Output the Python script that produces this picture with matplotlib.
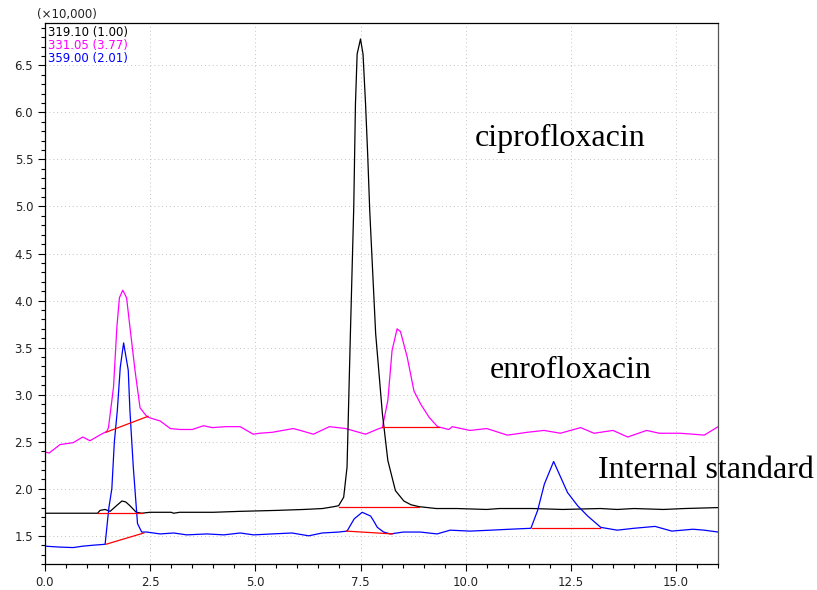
import matplotlib
matplotlib.use("Agg")
import matplotlib.pyplot as plt
from matplotlib.ticker import MultipleLocator

# retention time (min) and intensity (x10,000)
t_black = [0.0, 0.5, 1.0, 1.25, 1.31, 1.43, 1.55, 1.7, 1.83, 1.92, 2.02, 2.17, 2.3, 2.49,
           3.0, 3.06, 3.2, 4.0, 4.64, 5.5, 6.15, 6.6, 6.87, 6.98, 7.10, 7.18, 7.26, 7.34,
           7.38, 7.42, 7.50, 7.56, 7.62, 7.67, 7.72, 7.86, 8.02, 8.15, 8.33, 8.53, 8.70,
           8.89, 9.3, 9.8, 10.5, 10.8, 11.6, 12.3, 13.2, 13.6, 14.0, 14.7, 15.2, 16.0]
y_black = [1.74, 1.74, 1.74, 1.74, 1.77, 1.78, 1.76, 1.82, 1.87, 1.86, 1.82, 1.75, 1.74, 1.75,
           1.75, 1.74, 1.75, 1.75, 1.76, 1.77, 1.78, 1.79, 1.81, 1.82, 1.91, 2.23, 3.65, 5.0,
           6.09, 6.62, 6.78, 6.62, 6.09, 5.56, 4.95, 3.65, 2.80, 2.30, 1.98, 1.87, 1.83,
           1.81, 1.79, 1.79, 1.78, 1.79, 1.79, 1.78, 1.79, 1.78, 1.79, 1.78, 1.79, 1.80]

t_mag = [0.0, 0.1, 0.36, 0.67, 0.9, 1.07, 1.3, 1.47, 1.51, 1.63, 1.71, 1.77, 1.85, 1.94,
         2.02, 2.14, 2.26, 2.40, 2.45, 2.74, 2.98, 3.21, 3.5, 3.77, 3.97, 4.3, 4.64, 4.95,
         5.1, 5.4, 5.9, 6.07, 6.38, 6.76, 7.15, 7.46, 7.62, 7.94, 8.02, 8.15, 8.25, 8.37,
         8.45, 8.61, 8.77, 8.93, 9.13, 9.33, 9.6, 9.68, 10.1, 10.5, 10.99, 11.46, 11.86,
         12.25, 12.73, 13.05, 13.5, 13.85, 14.3, 14.6, 15.1, 15.4, 15.67, 16.0]
y_mag = [2.39, 2.38, 2.47, 2.49, 2.55, 2.51, 2.57, 2.61, 2.65, 3.08, 3.72, 4.03, 4.11, 4.03,
         3.72, 3.26, 2.86, 2.78, 2.76, 2.72, 2.64, 2.63, 2.63, 2.67, 2.65, 2.66, 2.66, 2.58,
         2.59, 2.60, 2.64, 2.62, 2.58, 2.66, 2.64, 2.60, 2.58, 2.64, 2.65, 2.94, 3.47, 3.70,
         3.67, 3.40, 3.04, 2.90, 2.76, 2.66, 2.63, 2.66, 2.62, 2.64, 2.57, 2.60, 2.62,
         2.59, 2.65, 2.59, 2.62, 2.55, 2.62, 2.59, 2.59, 2.58, 2.57, 2.66]

t_blue = [0.0, 0.36, 0.67, 0.9, 1.14, 1.43, 1.52, 1.59, 1.65, 1.72, 1.79, 1.87, 1.98, 2.02,
          2.10, 2.20, 2.30, 2.42, 2.74, 3.06, 3.37, 3.85, 4.25, 4.64, 4.96, 5.4, 5.87, 6.27,
          6.59, 6.98, 7.18, 7.35, 7.54, 7.74, 7.81, 7.90, 8.05, 8.21, 8.52, 8.92, 9.32,
          9.63, 10.1, 10.6, 11.05, 11.55, 11.71, 11.87, 12.09, 12.22, 12.42, 12.66, 12.9,
          13.21, 13.6, 14.0, 14.5, 14.9, 15.4, 15.67, 16.0]
y_blue = [1.39, 1.38, 1.375, 1.39, 1.40, 1.41, 1.8, 2.0, 2.5, 2.83, 3.29, 3.55, 3.26, 2.83,
          2.23, 1.63, 1.54, 1.54, 1.52, 1.53, 1.51, 1.52, 1.51, 1.53, 1.51, 1.52, 1.53, 1.50,
          1.53, 1.54, 1.55, 1.68, 1.75, 1.71, 1.66, 1.59, 1.54, 1.52, 1.54, 1.54, 1.52,
          1.56, 1.55, 1.56, 1.57, 1.58, 1.77, 2.05, 2.29, 2.16, 1.96, 1.82, 1.71,
          1.59, 1.56, 1.58, 1.60, 1.55, 1.57, 1.56, 1.54]

# integration baselines (start t, start y, end t, end y)
baselines = [(1.45, 2.60, 2.45, 2.77), (8.02, 2.66, 9.36, 2.66),
             (1.25, 1.74, 2.30, 1.74), (6.98, 1.81, 8.90, 1.81),
             (1.45, 1.41, 2.35, 1.53), (7.17, 1.55, 8.26, 1.52),
             (11.57, 1.585, 13.19, 1.585)]

legend_labels = ["319.10 (1.00)", "331.05 (3.77)", "359.00 (2.01)"]
colors = ["black", "#ff00ff", "#0000ff"]


def main():
    fig = plt.figure(figsize=(8.17, 5.9), dpi=100)
    ax = fig.add_axes([0.055, 0.044, 0.824, 0.917])

    ax.plot(t_mag, y_mag, color=colors[1], lw=0.9)
    ax.plot(t_black, y_black, color=colors[0], lw=0.9)
    ax.plot(t_blue, y_blue, color=colors[2], lw=0.9)
    for x0, y0, x1, y1 in baselines:
        ax.plot([x0, x1], [y0, y1], color="red", lw=0.9)

    ax.set_xlim(0, 16.0)
    ax.set_ylim(1.2, 6.95)
    ax.xaxis.set_major_locator(MultipleLocator(2.5))
    ax.xaxis.set_minor_locator(MultipleLocator(0.5))
    ax.yaxis.set_minor_locator(MultipleLocator(0.1))
    ax.set_yticks([1.5, 2.0, 2.5, 3.0, 3.5, 4.0, 4.5, 5.0, 5.5, 6.0, 6.5])
    ax.xaxis.set_major_formatter(plt.FormatStrFormatter("%.1f"))
    ax.yaxis.set_major_formatter(plt.FormatStrFormatter("%.1f"))
    ax.tick_params(which="major", direction="out", length=5, width=0.8,
                   labelsize=8.5, labelcolor="#222222")
    ax.tick_params(which="minor", direction="out", length=3, width=0.8)
    ax.grid(True, which="major", linestyle=(0, (1, 3)), color="#c4c4c4", lw=0.7)
    for s in ax.spines.values():
        s.set_linewidth(0.9)
    ax.spines["right"].set_color("#555555")

    fig.text(0.045, 0.965, "(\u00d710,000)", fontsize=8.5, color="#222222", va="bottom")
    for i, lab in enumerate(legend_labels):
        ax.text(0.004, 0.995 - i * 0.024, lab, transform=ax.transAxes, color=colors[i],
                fontsize=8.5, va="top", ha="left")

    ax.text(10.21, 5.72, "ciprofloxacin", family="Liberation Serif", fontsize=23, va="center")
    ax.text(10.57, 3.26, "enrofloxacin", family="Liberation Serif", fontsize=23, va="center")
    ax.text(13.14, 2.19, "Internal standard", family="Liberation Serif", fontsize=23,
            va="center", clip_on=False)

    fig.savefig("out.png", dpi=100)


main()
